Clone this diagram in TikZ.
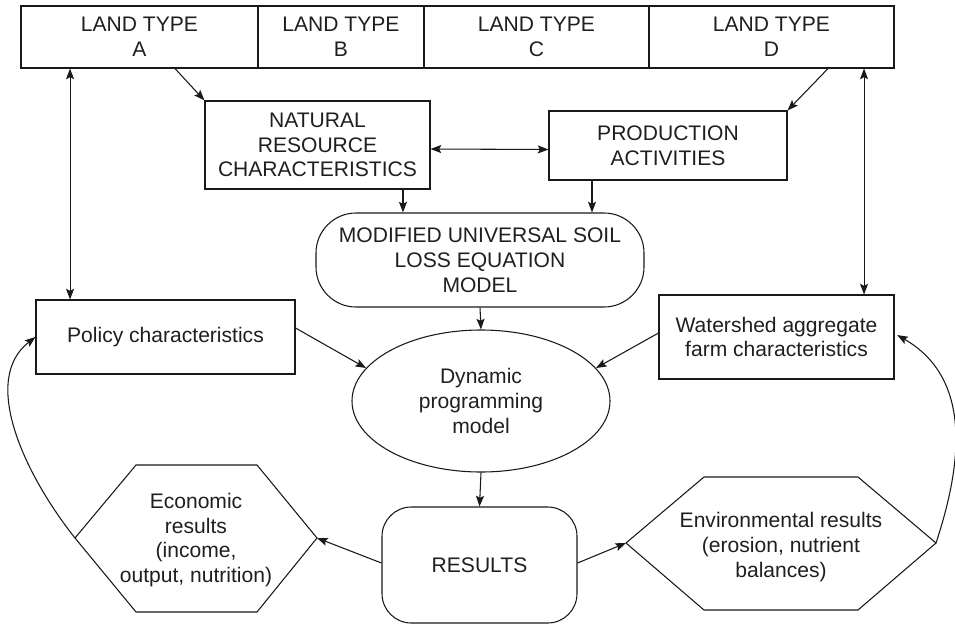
\documentclass[tikz,border=0pt]{standalone}
\usepackage{fontspec}
\setmainfont{Liberation Sans}
\usetikzlibrary{shapes.geometric,arrows.meta,calc}
\begin{document}
\begin{tikzpicture}[x=0.75pt,y=-0.75pt,
  every node/.style={font=\fontsize{15.8pt}{18.6pt}\selectfont, align=center, text=black!88},
  box/.style={draw, rectangle, inner sep=0pt},
  arr/.style={-{Stealth[length=8pt,width=6pt,inset=1.5pt]}},
  darr/.style={{Stealth[length=8pt,width=6pt,inset=1.5pt]}-{Stealth[length=8pt,width=6pt,inset=1.5pt]}},
  line width=0.8pt, draw=black!90]
\useasboundingbox (0,0) rectangle (955,625);
% top row
\node[box, minimum width=177.75pt, minimum height=46.5pt] (A) at (139.5,37) {LAND TYPE\\A};
\node[box, minimum width=124.5pt, minimum height=46.5pt] (B) at (341,37) {LAND TYPE\\B};
\node[box, minimum width=168.75pt, minimum height=46.5pt] (C) at (536.5,37) {LAND TYPE\\C};
\node[box, minimum width=183.75pt, minimum height=46.5pt] (D) at (771.5,37) {LAND TYPE\\D};
% second row
\node[box, minimum width=168.75pt, minimum height=66pt] (NR) at (317.5,145) {NATURAL\\RESOURCE\\CHARACTERISTICS};
\node[box, minimum width=178.5pt, minimum height=51.75pt] (PA) at (668,145.5) {PRODUCTION\\ACTIVITIES};
% MUSLE
\node[box, rounded corners=30pt, minimum width=246pt, minimum height=70.5pt] (MU) at (480,260) {MODIFIED UNIVERSAL SOIL\\LOSS EQUATION\\MODEL};
% policy, watershed
\node[box, minimum width=194.25pt, minimum height=55.5pt] (PO) at (165.5,337) {Policy characteristics};
\node[box, minimum width=176.25pt, minimum height=63pt] (WS) at (776.5,337) {Watershed aggregate\\farm characteristics};
% dynamic programming
\node[draw, ellipse, inner sep=0pt, minimum width=193.5pt, minimum height=106.5pt] (DY) at (481,401) {Dynamic\\programming\\model};
% results
\node[box, rounded corners=22pt, minimum width=146.25pt, minimum height=87pt] (RE) at (479.5,565) {RESULTS};
% hexagons
\draw (75,538) coordinate (econL) -- (136,465) -- (257,465) -- (317,538) coordinate (econR) -- (257,612) -- (136,612) -- cycle;
\node (EC) at (196,540) {Economic\\results\\(income,\\output, nutrition)};
\draw (626,543) coordinate (envL) -- (704,477) -- (858,477) -- (936,543) coordinate (envR) -- (858,610) -- (704,610) -- cycle;
\node (EN) at (781,547) {Environmental results\\(erosion, nutrient\\balances)};
% connectors
\draw[arr] ([xshift=26.6pt]A.south) -- (NR.north west);
\draw[arr] ([xshift=42.4pt]D.south) -- (PA.north east);
\draw[darr] ([yshift=-3pt]NR.east) -- ([yshift=-3pt]PA.west);
\draw[darr] ([xshift=-52.1pt]A.south) coordinate (la) -- (la |- PO.north);
\draw[darr] ([xshift=69.4pt]D.south) coordinate (ra) -- (ra |- WS.north);
\draw[arr] ([xshift=64.1pt]NR.south) coordinate (nb) -- (nb |- MU.north);
\draw[arr] ([xshift=-57pt]PA.south) coordinate (pb) -- (pb |- MU.north);
\draw[arr] (MU.south) -- (DY.north);
\draw[arr] ([yshift=6.75pt]PO.east) -- (DY.164);
\draw[arr] ([yshift=3pt]WS.west) -- (DY.16);
\draw[arr] (DY.south) -- (RE.north);
\draw[arr] ([yshift=1.5pt]RE.west) -- (econR);
\draw[arr] ([yshift=1.5pt]RE.east) -- (envL);
\draw[arr] (econL) .. controls (25,475) and (-20,380) .. (PO.west);
\draw[arr] (envR) .. controls (960,470) and (975,380) .. ([xshift=2pt,yshift=1.5pt]WS.east);
\end{tikzpicture}
\end{document}
